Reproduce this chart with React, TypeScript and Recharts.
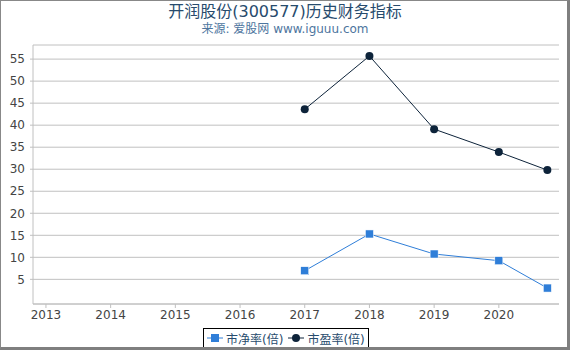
import { LineChart, Line, XAxis, YAxis, CartesianGrid, Legend } from 'recharts';

const periods = [2017, 2018, 2019, 2020, 2020.75];
const pbValues = [6.95, 15.3, 10.75, 9.23, 3.02];
const peValues = [43.6, 55.7, 39.1, 33.9, 29.8];
const yearTicks = [2013, 2014, 2015, 2016, 2017, 2018, 2019, 2020];
const valueTicks = [5, 10, 15, 20, 25, 30, 35, 40, 45, 50, 55];

const PB_COLOR = '#2f7ed8';
const PE_COLOR = '#0d233a';
const FONT = '"DejaVu Sans", "Noto Sans CJK SC", sans-serif';

const data = periods.map((x, i) => ({ x, pb: pbValues[i], pe: peValues[i] }));

function Square(props: any) {
  const { cx, cy } = props;
  if (cx == null || cy == null) return null;
  return <rect x={cx - 4} y={cy - 4} width={8} height={8} fill={PB_COLOR} stroke="#fff" strokeWidth={0.5} />;
}

function LegendBox() {
  const item = (color: string, label: string, square: boolean) => (
    <span style={{ display: 'inline-flex', alignItems: 'center', marginRight: 4 }}>
      <svg width={18} height={10} style={{ marginRight: 2 }}>
        <line x1={1} y1={5} x2={17} y2={5} stroke={color} strokeWidth={1} />
        {square
          ? <rect x={5} y={1} width={8} height={8} fill={color} />
          : <circle cx={9} cy={5} r={4} fill={color} />}
      </svg>
      {label}
    </span>
  );
  return (
    <div style={{
      border: '1px solid #000', boxSizing: 'border-box', height: 20, display: 'flex',
      alignItems: 'center', padding: '0 0 0 2px', fontFamily: FONT, fontSize: 12,
      color: '#274b6d', background: '#fff', whiteSpace: 'nowrap',
    }}>
      {item(PB_COLOR, '市净率(倍)', true)}
      {item(PE_COLOR, '市盈率(倍)', false)}
    </div>
  );
}

export default function App() {
  const tick = { fontSize: 12, fill: '#444', fontFamily: FONT };
  return (
    <div style={{ position: 'absolute', left: 0, top: 0, width: 570, height: 350, background: '#fff' }}>
      <div style={{
        position: 'absolute', top: 2, left: 0, width: 570, textAlign: 'center',
        fontFamily: FONT, fontSize: 16, color: '#274b6d', lineHeight: '20px',
      }}>
        开润股份(300577)历史财务指标
      </div>
      <div style={{
        position: 'absolute', top: 21, left: 0, width: 570, textAlign: 'center',
        fontFamily: FONT, fontSize: 12, color: '#4d759e', lineHeight: '16px',
      }}>
        来源: 爱股网 www.iguuu.com
      </div>
      <LineChart width={570} height={350} data={data} margin={{ top: 45, right: 11, bottom: 26, left: 0 }}>
        <CartesianGrid horizontal vertical={false} stroke="#c0c0c0" />
        <XAxis
          dataKey="x"
          type="number"
          domain={[2012.8, 2020.93]}
          ticks={yearTicks}
          tickFormatter={(v: number) => String(v)}
          height={20}
          tickSize={4}
          tickMargin={2}
          tick={tick}
          stroke="#c0c0c0"
          interval={0}
        />
        <YAxis
          type="number"
          domain={[-0.6, 58.2]}
          ticks={valueTicks}
          width={33}
          tickSize={3}
          tickMargin={5}
          tick={tick}
          stroke="#c0c0c0"
          interval={0}
          allowDataOverflow
        />
        <Legend
          verticalAlign="middle"
          align="center"
          content={() => <LegendBox />}
          wrapperStyle={{ top: 328, left: 203, width: 166, height: 20 }}
        />
        <Line
          dataKey="pb"
          name="市净率(倍)"
          stroke={PB_COLOR}
          strokeWidth={1}
          dot={<Square />}
          isAnimationActive={false}
        />
        <Line
          dataKey="pe"
          name="市盈率(倍)"
          stroke={PE_COLOR}
          strokeWidth={1}
          dot={{ r: 4, fill: PE_COLOR, stroke: PE_COLOR, strokeWidth: 0 }}
          isAnimationActive={false}
        />
      </LineChart>
      <div style={{
        position: 'absolute', left: 0, top: 0, width: 570, height: 350, boxSizing: 'border-box',
        borderLeft: '1px solid #888', borderTop: '1px solid #888',
        borderRight: '3px solid #7f7f7f', borderBottom: '3px solid #7f7f7f', pointerEvents: 'none',
      }} />
    </div>
  );
}
